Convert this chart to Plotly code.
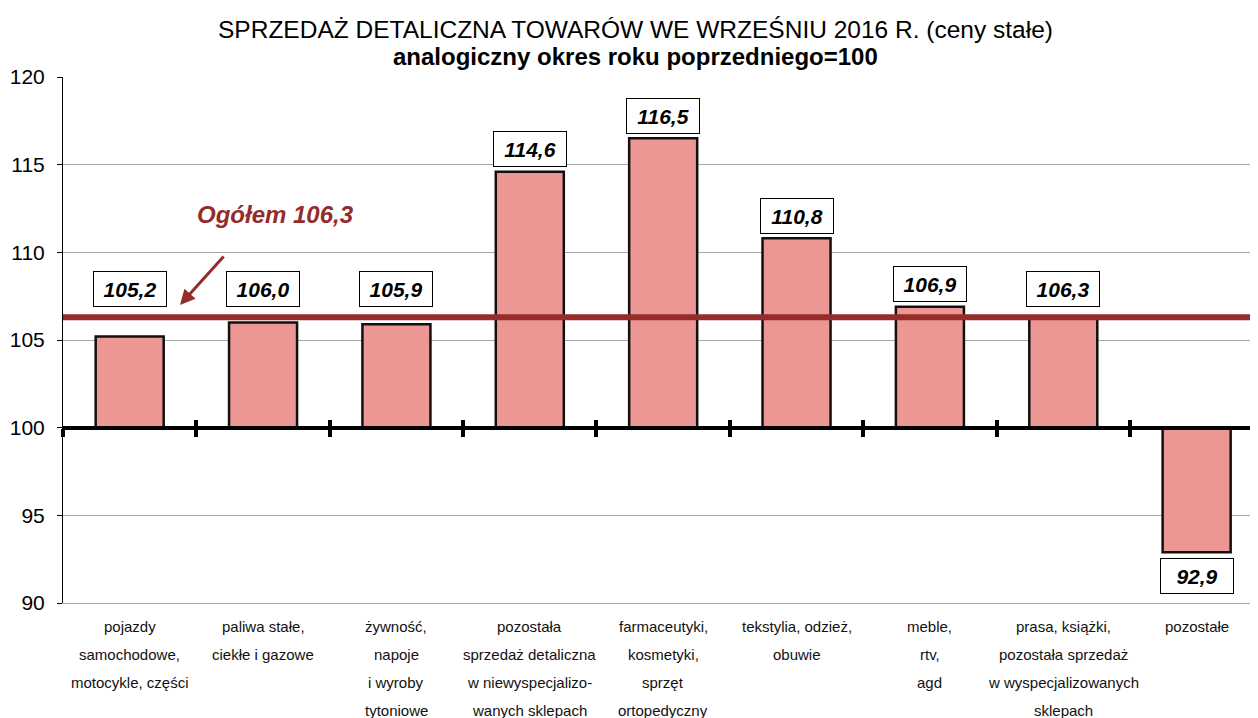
import plotly.graph_objects as go

categories = [
    "pojazdy<br>samochodowe,<br>motocykle, części",
    "paliwa stałe,<br>ciekłe i gazowe",
    "żywność,<br>napoje<br>i wyroby<br>tytoniowe",
    "pozostała<br>sprzedaż detaliczna<br>w niewyspecjalizo-<br>wanych sklepach",
    "farmaceutyki,<br>kosmetyki,<br>sprzęt<br>ortopedyczny",
    "tekstylia, odzież,<br>obuwie",
    "meble,<br>rtv,<br>agd",
    "prasa, książki,<br>pozostała sprzedaż<br>w wyspecjalizowanych<br>sklepach",
    "pozostałe",
]
values = [105.2, 106.0, 105.9, 114.6, 116.5, 110.8, 106.9, 106.3, 92.9]
value_labels = ["105,2", "106,0", "105,9", "114,6", "116,5", "110,8", "106,9", "106,3", "92,9"]
total = 106.3
total_label = "Ogółem 106,3"
base = 100
y_ticks = [90, 95, 100, 105, 110, 115, 120]
title_line1 = "SPRZEDAŻ DETALICZNA TOWARÓW WE WRZEŚNIU 2016 R. (ceny stałe)"
title_line2 = "analogiczny okres roku poprzedniego=100"

FONT = "Arial, Liberation Sans, sans-serif"
RED = "#952B2B"
xs = list(range(len(categories)))
xrange_ = [-0.5, 8.46]

W, H = 1250, 710
plot_left, plot_top, plot_h = 55, 69, 526
plot_w = W - plot_left


def paper_y(px_from_top):
    return 1 + (plot_top - px_from_top) / plot_h


def paper_x(px_from_left):
    return (px_from_left - plot_left) / plot_w


fig = go.Figure()
fig.add_trace(go.Bar(
    x=xs, y=[v - base for v in values], base=base, width=0.51,
    marker=dict(color="#EC9794", line=dict(color="#111111", width=2.5)),
    hoverinfo="skip", showlegend=False,
))
for ax in ["x2", "x3"]:
    fig.add_trace(go.Scatter(x=[0], y=[base], xaxis=ax, yaxis="y", mode="markers",
                             marker=dict(opacity=0), showlegend=False, hoverinfo="skip"))

fig.add_shape(type="line", xref="paper", x0=0, x1=1, yref="y", y0=total, y1=total,
              line=dict(color=RED, width=6), layer="above")

annotations = []
for i, (v, lab) in enumerate(zip(values, value_labels)):
    if v >= base:
        y = max(v + 1.3, 107.9)
        yanchor = "middle"
        ys = 0
    else:
        y = v
        yanchor = "top"
        ys = -6
    annotations.append(dict(
        x=i, y=y, xref="x", yref="y", text="<b><i>" + lab + "</i></b>", showarrow=False,
        yanchor=yanchor, yshift=ys, width=66, height=28,
        font=dict(family=FONT, size=21, color="black"),
        bgcolor="white", bordercolor="black", borderwidth=1, borderpad=3,
    ))
for i, c in enumerate(categories):
    for k, line in enumerate(c.split("<br>")):
        annotations.append(dict(
            x=i, y=0, xref="x", yref="paper", text=line, showarrow=False,
            yanchor="middle", yshift=-(23 + 28 * k),
            font=dict(family=FONT, size=15, color="#111111"),
        ))
annotations.append(dict(
    x=1.09, y=112.15, xref="x", yref="y", text="<b><i>" + total_label + "</i></b>",
    showarrow=False, font=dict(family=FONT, size=24, color=RED),
))
annotations.append(dict(
    x=0.377, y=107.0, xref="x", yref="y", text="", showarrow=True,
    ax=45, ay=-50, arrowhead=2, arrowsize=1, arrowwidth=3, arrowcolor=RED,
))
annotations.append(dict(
    x=paper_x(627), y=paper_y(22), xref="paper", yref="paper", text=title_line1,
    showarrow=False, xanchor="center", yanchor="middle",
    font=dict(family=FONT, size=24.5, color="black"),
))
annotations.append(dict(
    x=paper_x(627), y=paper_y(49), xref="paper", yref="paper",
    text="<b>" + title_line2 + "</b>", showarrow=False,
    xanchor="center", yanchor="middle", font=dict(family=FONT, size=24, color="black"),
))

fig.update_layout(
    width=W, height=H,
    margin=dict(l=plot_left, r=0, t=plot_top, b=H - plot_top - plot_h, autoexpand=False),
    paper_bgcolor="white", plot_bgcolor="white",
    xaxis=dict(range=xrange_, showticklabels=False, showgrid=False, zeroline=False,
               showline=True, linecolor="#A6A6A6", linewidth=1, ticks="", automargin=False),
    xaxis2=dict(overlaying="x", anchor="free", position=(base - 90) / 30, range=xrange_,
                showline=True, linecolor="black", linewidth=3.5, showgrid=False, zeroline=False,
                showticklabels=False, ticks="outside", ticklen=8, tickwidth=4, tickcolor="black",
                tickmode="linear", tick0=-0.5, dtick=1, automargin=False),
    xaxis3=dict(overlaying="x", anchor="free", position=(base - 90) / 30, range=xrange_,
                showline=False, showgrid=False, zeroline=False,
                showticklabels=False, ticks="inside", ticklen=8, tickwidth=4, tickcolor="black",
                tickmode="linear", tick0=-0.5, dtick=1, automargin=False),
    yaxis=dict(range=[90, 120], tickvals=y_ticks, showgrid=True, gridcolor="#A6A6A6", gridwidth=1,
               zeroline=False, showline=True, linecolor="black", linewidth=1,
               ticks="outside", ticklen=5, tickcolor="black", ticklabelstandoff=8,
               automargin=False,
               tickfont=dict(family=FONT, size=21, color="black")),
    annotations=annotations,
    bargap=0.49,
)

fig.write_html("out.html")
